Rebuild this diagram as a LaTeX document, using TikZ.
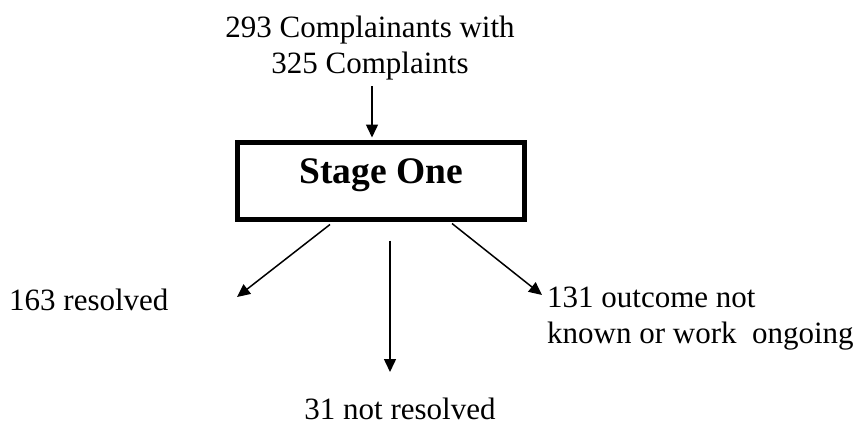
\documentclass[tikz,border=0pt]{standalone}
\usepackage{fontspec}
\setmainfont{Liberation Serif}
\usetikzlibrary{arrows.meta}

\begin{document}
\begin{tikzpicture}[
  x=1pt, y=-1pt,
  >={Triangle[length=13pt,width=12pt]},
  font=\fontsize{31}{36}\selectfont,
  lbl/.style={inner sep=0, align=#1},
  lbl/.default=left,
  stagebox/.style={draw, line width=5pt, minimum width=287pt, minimum height=77pt, inner sep=0,
    text height=26pt, text depth=22pt, font=\bfseries\fontsize{37.5}{45}\selectfont},
  flow/.style={->, line width=1.5pt},
]
  \useasboundingbox (0,0) rectangle (866,425);

  \node[lbl=center, anchor=north] (src) at (370,15.5) {293 Complainants with\\325 Complaints};
  \node[stagebox] (stage) at (381,181) {Stage One};
  \node[lbl, anchor=base west] (res) at (9,310) {163 resolved};
  \node[lbl, anchor=north west] (open) at (547,287) {131 outcome not\\known or work\ \ ongoing};
  \node[lbl, anchor=base] (unres) at (400,419) {31 not resolved};

  % free ends of the outgoing arrows
  \coordinate (resTip) at (237,297);
  \coordinate (openTip) at (542,295);
  \coordinate (unresTip) at (390,372);

  \draw[flow] ([xshift=2pt,yshift=-6pt]src.south) -- ([xshift=2pt,yshift=2.5pt]src.south |- stage.north);
  \draw[flow] ([xshift=-51pt,yshift=-2.5pt]stage.south) -- (resTip);
  \draw[flow] ([xshift=9pt,yshift=-18.5pt]stage.south) -- (unresTip);
  \draw[flow] ([xshift=71pt,yshift=-1.5pt]stage.south) -- (openTip);
\end{tikzpicture}
\end{document}
